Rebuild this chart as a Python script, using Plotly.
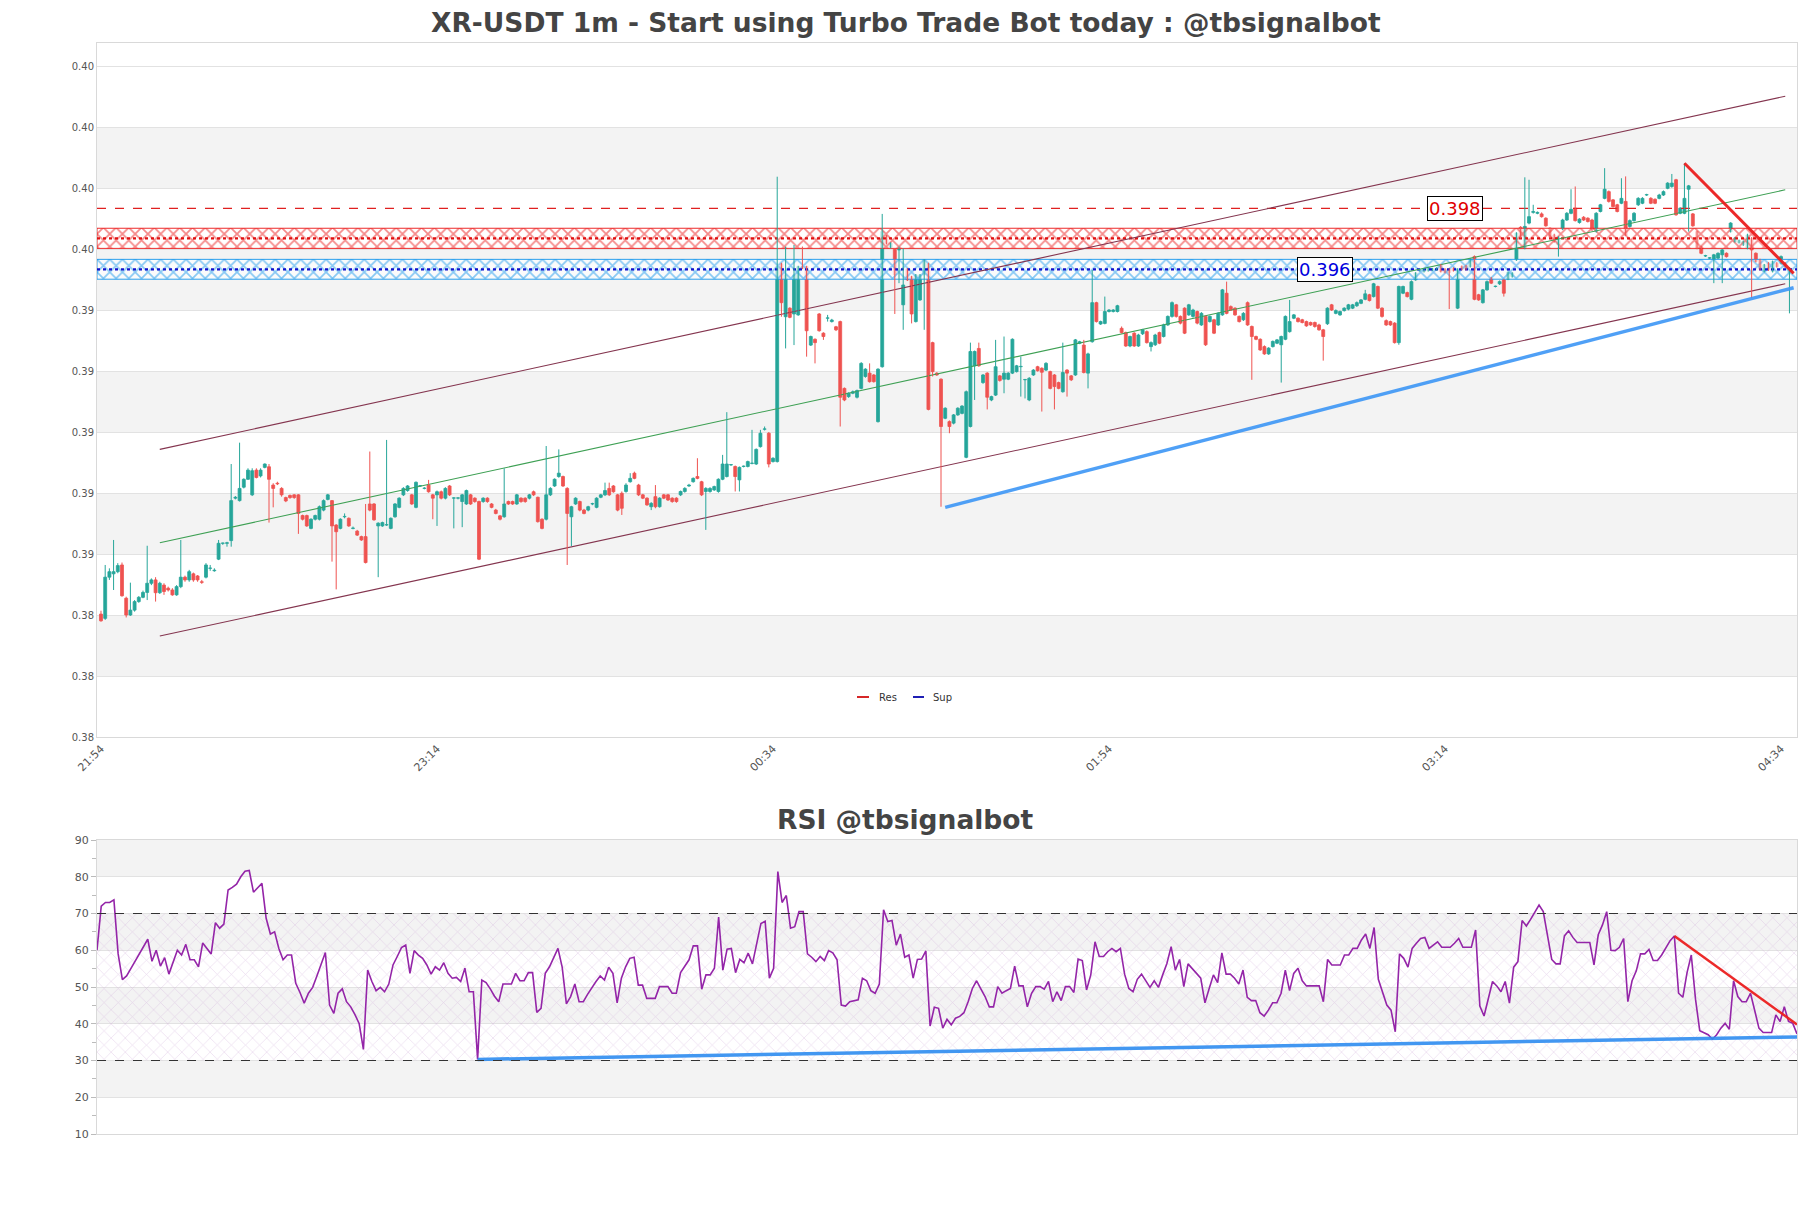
import plotly.graph_objects as go

W, H = 1811, 1208

# ---------------- data ----------------
time_labels = ["21:54", "23:14", "00:34", "01:54", "03:14", "04:34"]
time_label_idx = [0, 80, 160, 240, 320, 400]

opens = [
0.38463,0.38449,0.38584,0.38595,0.38602,0.38624,0.38515,0.38460,0.38476,0.38504,
0.38518,0.38534,0.38564,0.38575,0.38533,0.38558,0.38548,0.38542,0.38526,0.38553,
0.38584,0.38575,0.38595,0.38588,0.38569,0.38584,0.38613,0.38605,0.38643,0.38695,
0.38695,0.38704,0.38843,0.38835,0.38879,0.38905,0.38854,0.38935,0.38916,0.38944,
0.38946,0.38886,0.38892,0.38875,0.38845,0.38852,0.38854,0.38854,0.38786,0.38786,
0.38744,0.38774,0.38774,0.38804,0.38839,0.38835,0.38755,0.38744,0.38782,0.38777,
0.38744,0.38735,0.38717,0.38717,0.38824,0.38824,0.38752,0.38752,0.38755,0.38744,
0.38782,0.38813,0.38854,0.38868,0.38854,0.38813,0.38883,0.38875,0.38886,0.38854,
0.38854,0.38864,0.38843,0.38883,0.38843,0.38843,0.38832,0.38824,0.38854,0.38843,
0.38832,0.38832,0.38843,0.38824,0.38804,0.38785,0.38782,0.38832,0.38832,0.38824,
0.38843,0.38843,0.38843,0.38864,0.38846,0.38774,0.38774,0.38854,0.38883,0.38914,
0.38914,0.38875,0.38782,0.38824,0.38832,0.38804,0.38804,0.38824,0.38813,0.38846,
0.38854,0.38875,0.38883,0.38854,0.38859,0.38865,0.38897,0.38925,0.38886,0.38854,
0.38843,0.38815,0.38848,0.38815,0.38854,0.38854,0.38843,0.38843,0.38854,0.38865,
0.38883,0.38897,0.38914,0.38897,0.38865,0.38865,0.38870,0.38865,0.38905,0.38914,
0.38952,0.38947,0.38903,0.38947,0.38947,0.38957,0.38955,0.39012,0.39069,0.39056,
0.38963,0.38963,0.39611,0.39438,0.39466,0.39447,0.39444,0.39602,0.39602,0.39345,
0.39364,0.39447,0.39384,0.39433,0.39422,0.39405,0.39422,0.39203,0.39176,0.39187,
0.39174,0.39203,0.39242,0.39253,0.39247,0.39094,0.39274,0.39703,0.39666,0.39659,
0.39657,0.39477,0.39594,0.39569,0.39422,0.39493,0.39575,0.39611,0.39353,0.39253,
0.39233,0.39105,0.39094,0.39089,0.39116,0.39121,0.38977,0.39078,0.39277,0.39334,
0.39222,0.39253,0.39165,0.39181,0.39244,0.39233,0.39233,0.39253,0.39258,0.39274,
0.39231,0.39165,0.39247,0.39274,0.39269,0.39263,0.39258,0.39247,0.39222,0.39192,
0.39263,0.39244,0.39247,0.39351,0.39345,0.39253,0.39356,0.39484,0.39414,0.39416,
0.39455,0.39455,0.39455,0.39400,0.39386,0.39342,0.39384,0.39342,0.39382,0.39389,
0.39340,0.39346,0.39386,0.39373,0.39411,0.39439,0.39477,0.39439,0.39466,0.39444,
0.39439,0.39455,0.39411,0.39439,0.39422,0.39428,0.39411,0.39444,0.39515,0.39471,
0.39466,0.39439,0.39428,0.39484,0.39406,0.39373,0.39364,0.39340,0.39316,0.39340,
0.39351,0.39346,0.39364,0.39389,0.39433,0.39433,0.39428,0.39422,0.39419,0.39419,
0.39411,0.39395,0.39415,0.39477,0.39449,0.39444,0.39458,0.39463,0.39466,0.39474,
0.39482,0.39495,0.39510,0.39504,0.39537,0.39466,0.39425,0.39422,0.39417,0.39353,
0.39515,0.39517,0.39495,0.39559,0.39589,0.39586,0.39589,0.39592,0.39592,0.39608,
0.39594,0.39594,0.39597,0.39466,0.39602,0.39605,0.39602,0.39635,0.39510,0.39484,
0.39526,0.39564,0.39537,0.39546,0.39559,0.39561,0.39570,0.39624,0.39731,0.39663,
0.39745,0.39780,0.39777,0.39775,0.39761,0.39728,0.39706,0.39674,0.39725,0.39755,
0.39777,0.39794,0.39747,0.39764,0.39761,0.39755,0.39717,0.39783,0.39826,0.39848,
0.39821,0.39805,0.39810,0.39816,0.39734,0.39753,0.39805,0.39810,0.39837,0.39826,
0.39823,0.39826,0.39837,0.39859,0.39865,0.39887,0.39777,0.39777,0.39856,0.39775,
0.39717,0.39668,0.39637,0.39630,0.39624,0.39630,0.39641,0.39646,0.39717,0.39684,
0.39681,0.39674,0.39663,0.39695,0.39646,0.39624,0.39586,0.39613,0.39586,0.39613,
0.39613,0.39613,0.39581]

highs = [
0.38474,0.38624,0.38613,0.38706,0.38630,0.38632,0.38520,0.38566,0.38509,0.38522,
0.38540,0.38687,0.38580,0.38584,0.38569,0.38564,0.38553,0.38548,0.38558,0.38706,
0.38589,0.38608,0.38599,0.38591,0.38575,0.38630,0.38624,0.38613,0.38706,0.38697,
0.38700,0.38955,0.38850,0.39025,0.38908,0.38941,0.38941,0.38941,0.38941,0.38957,
0.38955,0.38892,0.38897,0.38879,0.38848,0.38855,0.38856,0.38856,0.38789,0.38789,
0.38777,0.38789,0.38819,0.38839,0.38857,0.38837,0.38758,0.38777,0.38793,0.38780,
0.38750,0.38739,0.38720,0.38824,0.38996,0.38827,0.38764,0.38766,0.39034,0.38780,
0.38827,0.38846,0.38879,0.38886,0.38857,0.38898,0.38886,0.38879,0.38903,0.38857,
0.38868,0.38868,0.38879,0.38886,0.38846,0.38846,0.38857,0.38871,0.38857,0.38846,
0.38835,0.38846,0.38846,0.38827,0.38808,0.38788,0.38941,0.38835,0.38835,0.38857,
0.38846,0.38846,0.38857,0.38868,0.38848,0.38777,0.39014,0.38879,0.38908,0.39003,
0.38917,0.38879,0.38818,0.38846,0.38835,0.38808,0.38818,0.38828,0.38846,0.38857,
0.38894,0.38894,0.38886,0.38857,0.38865,0.38892,0.38925,0.38930,0.38890,0.38857,
0.38846,0.38830,0.38886,0.38846,0.38857,0.38857,0.38846,0.38846,0.38868,0.38879,
0.38890,0.38911,0.38974,0.38900,0.38879,0.38879,0.38884,0.38908,0.38985,0.39125,
0.38955,0.38950,0.38947,0.38950,0.38966,0.39067,0.39006,0.39067,0.39078,0.39060,
0.38977,0.39897,0.39615,0.39668,0.39469,0.39673,0.39605,0.39668,0.39605,0.39376,
0.39367,0.39450,0.39387,0.39444,0.39431,0.39408,0.39425,0.39206,0.39190,0.39196,
0.39199,0.39289,0.39269,0.39285,0.39250,0.39269,0.39775,0.39706,0.39682,0.39662,
0.39668,0.39662,0.39597,0.39572,0.39578,0.39578,0.39627,0.39615,0.39356,0.39256,
0.39236,0.39141,0.39098,0.39119,0.39141,0.39148,0.39196,0.39353,0.39327,0.39353,
0.39250,0.39256,0.39179,0.39362,0.39247,0.39373,0.39256,0.39367,0.39280,0.39307,
0.39234,0.39240,0.39266,0.39277,0.39272,0.39289,0.39261,0.39250,0.39225,0.39353,
0.39266,0.39247,0.39365,0.39359,0.39362,0.39320,0.39591,0.39487,0.39425,0.39504,
0.39463,0.39463,0.39477,0.39406,0.39389,0.39376,0.39387,0.39382,0.39398,0.39393,
0.39357,0.39382,0.39389,0.39415,0.39442,0.39488,0.39480,0.39442,0.39469,0.39480,
0.39464,0.39458,0.39453,0.39442,0.39442,0.39431,0.39453,0.39529,0.39553,0.39475,
0.39469,0.39442,0.39453,0.39488,0.39409,0.39376,0.39367,0.39344,0.39338,0.39360,
0.39365,0.39376,0.39442,0.39493,0.39447,0.39436,0.39431,0.39425,0.39422,0.39422,
0.39415,0.39398,0.39469,0.39480,0.39462,0.39458,0.39469,0.39480,0.39480,0.39488,
0.39496,0.39526,0.39513,0.39549,0.39540,0.39469,0.39429,0.39425,0.39420,0.39540,
0.39540,0.39520,0.39557,0.39584,0.39595,0.39597,0.39600,0.39598,0.39600,0.39611,
0.39597,0.39597,0.39600,0.39597,0.39606,0.39608,0.39630,0.39639,0.39513,0.39529,
0.39557,0.39568,0.39540,0.39557,0.39562,0.39586,0.39584,0.39715,0.39735,0.39895,
0.39887,0.39805,0.39783,0.39780,0.39764,0.39731,0.39710,0.39702,0.39759,0.39781,
0.39856,0.39865,0.39761,0.39768,0.39764,0.39759,0.39781,0.39808,0.39925,0.39852,
0.39824,0.39808,0.39892,0.39898,0.39757,0.39781,0.39830,0.39830,0.39841,0.39830,
0.39826,0.39841,0.39852,0.39879,0.39906,0.39890,0.39797,0.39941,0.39870,0.39778,
0.39720,0.39671,0.39641,0.39633,0.39644,0.39649,0.39660,0.39649,0.39748,0.39699,
0.39691,0.39688,0.39710,0.39699,0.39649,0.39628,0.39611,0.39617,0.39622,0.39617,
0.39639,0.39617,0.39600]

lows = [
0.38438,0.38444,0.38575,0.38542,0.38597,0.38520,0.38452,0.38457,0.38471,0.38500,
0.38515,0.38509,0.38558,0.38504,0.38529,0.38526,0.38537,0.38523,0.38523,0.38548,
0.38569,0.38569,0.38569,0.38569,0.38562,0.38580,0.38605,0.38602,0.38640,0.38690,
0.38684,0.38684,0.38839,0.38832,0.38875,0.38903,0.38850,0.38908,0.38911,0.38941,
0.38763,0.38813,0.38886,0.38848,0.38830,0.38841,0.38841,0.38726,0.38770,0.38749,
0.38741,0.38770,0.38770,0.38800,0.38836,0.38635,0.38544,0.38741,0.38777,0.38749,
0.38741,0.38719,0.38703,0.38629,0.38800,0.38769,0.38584,0.38749,0.38752,0.38741,
0.38779,0.38810,0.38850,0.38864,0.38821,0.38810,0.38880,0.38872,0.38861,0.38774,
0.38752,0.38839,0.38839,0.38850,0.38744,0.38839,0.38748,0.38821,0.38821,0.38828,
0.38640,0.38828,0.38828,0.38810,0.38790,0.38770,0.38779,0.38821,0.38821,0.38821,
0.38828,0.38828,0.38839,0.38850,0.38763,0.38741,0.38770,0.38850,0.38880,0.38910,
0.38880,0.38624,0.38686,0.38821,0.38800,0.38790,0.38800,0.38820,0.38810,0.38843,
0.38850,0.38850,0.38861,0.38800,0.38788,0.38861,0.38894,0.38905,0.38850,0.38840,
0.38818,0.38804,0.38810,0.38812,0.38840,0.38834,0.38828,0.38828,0.38850,0.38861,
0.38880,0.38894,0.38905,0.38850,0.38739,0.38861,0.38867,0.38861,0.38902,0.38911,
0.38949,0.38865,0.38865,0.38944,0.38944,0.38954,0.38952,0.39009,0.39065,0.38944,
0.38960,0.38960,0.39438,0.39334,0.39433,0.39345,0.39441,0.39594,0.39307,0.39342,
0.39285,0.39389,0.39362,0.39422,0.39419,0.39391,0.39078,0.39161,0.39172,0.39184,
0.39170,0.39200,0.39238,0.39222,0.39222,0.39091,0.39271,0.39675,0.39662,0.39447,
0.39548,0.39395,0.39555,0.39416,0.39419,0.39490,0.39395,0.39131,0.39242,0.39244,
0.38815,0.39102,0.39056,0.39085,0.39113,0.39118,0.38974,0.39075,0.39165,0.39274,
0.39218,0.39134,0.39161,0.39178,0.39225,0.39187,0.39230,0.39250,0.39255,0.39176,
0.39170,0.39161,0.39244,0.39258,0.39127,0.39260,0.39200,0.39134,0.39200,0.39189,
0.39176,0.39227,0.39244,0.39348,0.39252,0.39203,0.39353,0.39419,0.39411,0.39413,
0.39452,0.39452,0.39452,0.39383,0.39339,0.39338,0.39339,0.39339,0.39378,0.39350,
0.39324,0.39342,0.39348,0.39370,0.39408,0.39435,0.39435,0.39413,0.39381,0.39441,
0.39435,0.39413,0.39408,0.39342,0.39419,0.39381,0.39408,0.39441,0.39446,0.39457,
0.39441,0.39419,0.39424,0.39408,0.39231,0.39361,0.39326,0.39313,0.39313,0.39337,
0.39348,0.39222,0.39361,0.39386,0.39430,0.39419,0.39416,0.39405,0.39408,0.39402,
0.39392,0.39294,0.39411,0.39457,0.39446,0.39441,0.39455,0.39459,0.39463,0.39470,
0.39479,0.39492,0.39488,0.39501,0.39463,0.39435,0.39408,0.39408,0.39350,0.39346,
0.39512,0.39501,0.39492,0.39556,0.39586,0.39583,0.39586,0.39588,0.39588,0.39583,
0.39580,0.39463,0.39586,0.39463,0.39590,0.39590,0.39599,0.39492,0.39490,0.39481,
0.39523,0.39545,0.39534,0.39542,0.39504,0.39558,0.39566,0.39621,0.39695,0.39659,
0.39741,0.39776,0.39774,0.39763,0.39733,0.39695,0.39681,0.39635,0.39722,0.39752,
0.39774,0.39750,0.39743,0.39752,0.39747,0.39719,0.39714,0.39780,0.39823,0.39812,
0.39796,0.39780,0.39807,0.39703,0.39730,0.39750,0.39801,0.39807,0.39834,0.39807,
0.39807,0.39823,0.39834,0.39856,0.39861,0.39769,0.39774,0.39774,0.39717,0.39733,
0.39659,0.39643,0.39634,0.39627,0.39548,0.39627,0.39548,0.39632,0.39714,0.39681,
0.39678,0.39670,0.39659,0.39499,0.39616,0.39590,0.39583,0.39588,0.39583,0.39599,
0.39610,0.39599,0.39449]

closes = [
0.38441,0.38584,0.38602,0.38602,0.38622,0.38523,0.38460,0.38476,0.38504,0.38518,
0.38534,0.38564,0.38575,0.38533,0.38564,0.38537,0.38542,0.38526,0.38553,0.38584,
0.38575,0.38602,0.38575,0.38575,0.38567,0.38624,0.38613,0.38607,0.38695,0.38695,
0.38697,0.38835,0.38846,0.38875,0.38905,0.38935,0.38933,0.38911,0.38935,0.38955,
0.38905,0.38875,0.38890,0.38854,0.38834,0.38845,0.38845,0.38793,0.38774,0.38752,
0.38774,0.38786,0.38815,0.38835,0.38854,0.38752,0.38733,0.38774,0.38782,0.38752,
0.38744,0.38722,0.38706,0.38632,0.38804,0.38772,0.38761,0.38763,0.38755,0.38777,
0.38824,0.38843,0.38875,0.38883,0.38824,0.38895,0.38883,0.38875,0.38864,0.38843,
0.38864,0.38843,0.38875,0.38854,0.38843,0.38843,0.38854,0.38868,0.38824,0.38832,
0.38643,0.38843,0.38832,0.38813,0.38793,0.38774,0.38824,0.38824,0.38824,0.38854,
0.38832,0.38832,0.38854,0.38854,0.38766,0.38744,0.38854,0.38875,0.38905,0.38925,
0.38883,0.38793,0.38815,0.38843,0.38804,0.38793,0.38815,0.38824,0.38843,0.38854,
0.38868,0.38854,0.38864,0.38804,0.38810,0.38886,0.38908,0.38908,0.38854,0.38843,
0.38821,0.38826,0.38815,0.38843,0.38843,0.38837,0.38832,0.38832,0.38865,0.38875,
0.38886,0.38908,0.38908,0.38854,0.38875,0.38875,0.38881,0.38905,0.38955,0.38955,
0.38952,0.38914,0.38944,0.38947,0.38963,0.38957,0.39003,0.39056,0.39069,0.38955,
0.38974,0.39600,0.39484,0.39575,0.39436,0.39575,0.39602,0.39597,0.39392,0.39373,
0.39353,0.39392,0.39373,0.39433,0.39427,0.39395,0.39174,0.39165,0.39187,0.39192,
0.39196,0.39285,0.39266,0.39225,0.39225,0.39266,0.39717,0.39679,0.39679,0.39575,
0.39657,0.39542,0.39559,0.39447,0.39575,0.39575,0.39624,0.39134,0.39258,0.39247,
0.39078,0.39138,0.39078,0.39116,0.39138,0.39145,0.39192,0.39324,0.39324,0.39277,
0.39247,0.39174,0.39176,0.39274,0.39229,0.39253,0.39253,0.39364,0.39277,0.39274,
0.39231,0.39236,0.39263,0.39261,0.39256,0.39285,0.39203,0.39209,0.39203,0.39255,
0.39253,0.39231,0.39362,0.39356,0.39255,0.39316,0.39484,0.39422,0.39422,0.39455,
0.39460,0.39460,0.39474,0.39386,0.39342,0.39373,0.39342,0.39378,0.39395,0.39353,
0.39353,0.39378,0.39351,0.39411,0.39439,0.39484,0.39439,0.39417,0.39384,0.39477,
0.39460,0.39417,0.39449,0.39346,0.39439,0.39384,0.39449,0.39526,0.39449,0.39460,
0.39444,0.39422,0.39449,0.39411,0.39373,0.39364,0.39329,0.39316,0.39335,0.39357,
0.39362,0.39373,0.39439,0.39422,0.39444,0.39422,0.39419,0.39408,0.39411,0.39406,
0.39395,0.39373,0.39466,0.39460,0.39458,0.39455,0.39466,0.39477,0.39477,0.39484,
0.39493,0.39513,0.39491,0.39546,0.39466,0.39439,0.39411,0.39411,0.39353,0.39537,
0.39537,0.39504,0.39553,0.39581,0.39592,0.39594,0.39597,0.39595,0.39597,0.39586,
0.39583,0.39583,0.39589,0.39594,0.39594,0.39594,0.39627,0.39495,0.39493,0.39526,
0.39553,0.39548,0.39537,0.39553,0.39515,0.39583,0.39581,0.39712,0.39699,0.39734,
0.39766,0.39783,0.39780,0.39766,0.39736,0.39699,0.39684,0.39699,0.39755,0.39777,
0.39790,0.39753,0.39758,0.39755,0.39750,0.39723,0.39777,0.39805,0.39856,0.39816,
0.39799,0.39783,0.39826,0.39706,0.39753,0.39777,0.39826,0.39826,0.39837,0.39810,
0.39810,0.39837,0.39848,0.39876,0.39876,0.39772,0.39794,0.39826,0.39867,0.39736,
0.39663,0.39646,0.39637,0.39630,0.39641,0.39646,0.39657,0.39635,0.39745,0.39695,
0.39688,0.39684,0.39706,0.39657,0.39619,0.39594,0.39608,0.39592,0.39619,0.39602,
0.39635,0.39602,0.39597]

rsi = [
60,72,73,73,73.7,59,52,53,55,57,59,61,63,57,60,55.7,58,53.5,57,60,
58.7,61.6,57.4,57.4,55.5,62,60.5,59,67.5,66,67.1,76.4,77.1,78,80,81.5,81.7,75.8,77,78.2,
68.7,64.4,65,60.5,57.4,58.7,58.7,51,48.5,45.6,48.3,49.9,53,56.5,59.4,45.1,42.8,48.3,49.5,46,
44.6,42.5,40,33,54.6,51.5,49,49.9,48.7,50.8,56,58.3,60.7,61.4,53.7,59.9,58.7,57.8,56,53.5,
55.5,54.6,56.6,53.7,52.4,52.6,51.5,55.1,48.7,48.7,30.3,51.9,51.2,49.5,47.5,46,50.8,50.8,50.8,53.7,
51.7,51.7,53.9,53.9,43.1,44.2,53.7,55.5,58,60.5,55.4,45.4,47.4,50.8,46,46,48,49.8,51.5,53,
51.9,55.4,53.7,45.7,52.4,55.5,57.8,58.1,50.5,50.5,46.9,46.9,46.9,50.1,50.1,50.1,48.3,48.3,53.9,55.5,
57.4,61.2,61.2,49.4,53.3,53.3,55.1,69,54.6,60.3,60.5,53.9,57.5,56.6,59.2,56.3,62,67.3,67.9,52.4,
55.1,81.4,73,74.9,66,66.4,70.5,70.5,59,58.1,56.9,58.3,57.2,59.9,59.3,57.4,45.1,44.8,46,46.2,
46.5,52.4,51.7,49,48.3,50.8,71,67.8,68.1,61.4,64.4,58.1,58.7,52.4,57.5,57.6,59.8,39.4,44.5,44.2,
38.8,41.2,39.7,41.5,42,43,46,49.6,51.7,49.5,47.4,44.6,44.6,50.1,48.3,49,49.6,55.7,50.3,50.3,
44.6,48.3,50.1,50.1,49.4,51.5,46,48.7,46.3,50.1,50.1,48.5,57.6,57.2,49.2,53.3,62.3,58.3,58.3,59.6,
60.5,59.6,60.5,53.5,49.6,48.7,52.1,53.5,51.5,49.9,51.7,49.9,53.3,56.4,61,54.6,57.5,50.1,56.3,55.1,
53.7,52.4,45.7,49.6,53.3,51.2,59.3,53.5,53.5,52.4,50.8,54.6,47.2,46.3,46.3,43,42.1,43.7,45.7,45.7,
48.3,54.6,49,53.7,55.1,51.7,50.3,50.3,50.3,50.3,46,57.5,56,56,56,58.7,58.7,60.5,60.5,62.8,
64.4,60.5,66.2,52.1,48.3,45.1,43.7,37.8,59,57.8,55.4,60.5,61.9,63.2,63.5,60.5,61.4,62.3,60.8,60.8,
60.8,61.9,63.2,60.8,60.8,60.8,65.5,44.8,42.1,46.9,51.5,50.3,48.7,51.5,45.6,55.4,56.9,68.1,66.6,68.4,
70.5,72.3,70.5,63.5,57.5,56.3,56.3,63.9,65.3,63.5,62.1,62.1,62.1,62.1,56,64.2,66.9,70.5,60,59.9,
60.8,63.2,46,51.7,54.4,59,59,60.2,57.2,57.2,58.7,60.5,62.6,63.9,48.3,47.2,53.9,58.7,46.7,38.1,
37.6,37,35.8,37,38.8,40.1,38.5,51.7,47.4,46,46,48.3,43.6,38.8,37.6,37.6,37.6,42.4,40.6,44.6,
40.6,40.1,37.2]

# levels / trend lines
res_level = 0.39793
res_zone = (0.39662, 0.39728)
res_mid = 0.39695
sup_zone = (0.39561, 0.39626)
sup_mid = 0.39593
res_label, sup_label = "0.398", "0.396"
res_label_x, sup_label_x = 322.4, 291.4
chan_x = [14, 401]
chan_upper = [0.39003, 0.40161]
chan_lower = [0.38391, 0.39546]
chan_mid = [0.38697, 0.39854]
sup_tl_x, sup_tl_y = [201, 403], [0.38813, 0.39533]
res_tl_x, res_tl_y = [377, 403], [0.39941, 0.39580]
rsi_sup_x, rsi_sup_y = [90, 402], [30.3, 36.4]
rsi_res_x, rsi_res_y = [373, 402], [63.9, 39.8]

ytick_vals = [0.3806 + 0.002 * k for k in range(12)]
ytick_text = ["0.38", "0.38", "0.38", "0.39", "0.39", "0.39", "0.39", "0.39", "0.40", "0.40", "0.40", "0.40"]

n = min(len(opens), len(highs), len(lows), len(closes))

# ---------------- geometry ----------------
def fx(px):
    return px / W

def fy(py):
    return 1 - py / H

FONT = "DejaVu Sans, sans-serif"
UP, DOWN = "#26a69a", "#ef5350"
X_LO, X_HI = -0.95, 403.8
Y_LO = 0.3806
Y_HI = 0.3806 + (737 - 43) / 61 * 0.002
DOJI = 0.000012

fig = go.Figure()

# hatched zones
for (lo, hi), fg, edge in [(res_zone, "rgba(235,20,20,1)", "rgba(235,20,20,0.9)"),
                           (sup_zone, "rgba(20,150,235,1)", "rgba(20,150,235,0.9)")]:
    fig.add_trace(go.Scatter(
        x=[X_LO, X_HI, X_HI, X_LO, X_LO], y=[lo, lo, hi, hi, lo],
        mode="lines", fill="toself", line=dict(color=edge, width=1),
        fillpattern=dict(shape="x", fgcolor=fg, bgcolor="rgba(255,255,255,0.7)", size=9, solidity=0.35),
        xaxis="x", yaxis="y", showlegend=False, hoverinfo="skip"))

# horizontal lines
fig.add_trace(go.Scatter(x=[X_LO, X_HI], y=[res_level, res_level], mode="lines",
                         line=dict(color="#e02020", width=1.2, dash="dash"),
                         showlegend=False, hoverinfo="skip"))
fig.add_trace(go.Scatter(x=[X_LO, X_HI], y=[res_mid, res_mid], mode="lines",
                         line=dict(color="#e01010", width=2.2, dash="dot"),
                         showlegend=False, hoverinfo="skip"))
fig.add_trace(go.Scatter(x=[X_LO, X_HI], y=[sup_mid, sup_mid], mode="lines",
                         line=dict(color="#1010cc", width=2.2, dash="dot"),
                         showlegend=False, hoverinfo="skip"))

# channel
for ys, col in [(chan_upper, "#84354f"), (chan_lower, "#84354f"), (chan_mid, "#3ea054")]:
    fig.add_trace(go.Scatter(x=chan_x, y=ys, mode="lines", line=dict(color=col, width=1.1),
                             showlegend=False, hoverinfo="skip"))

# candles: wicks + bodies, split by direction
for is_up, col in [(True, UP), (False, DOWN)]:
    sel = [i for i in range(n) if (closes[i] >= opens[i]) == is_up]
    wx, wy = [], []
    for i in sel:
        wx += [i, i, None]
        wy += [lows[i], highs[i], None]
    fig.add_trace(go.Scatter(x=wx, y=wy, mode="lines", line=dict(color=col, width=1),
                             showlegend=False, hoverinfo="skip", xaxis="x", yaxis="y"))
    body = [closes[i] - opens[i] if abs(closes[i] - opens[i]) > DOJI else (DOJI if is_up else -DOJI)
            for i in sel]
    fig.add_trace(go.Bar(x=sel, base=[opens[i] for i in sel], y=body, width=0.7,
                         marker=dict(color=col, line=dict(color=col, width=0.8)),
                         showlegend=False, hoverinfo="skip", xaxis="x", yaxis="y"))

# trend lines
fig.add_trace(go.Scatter(x=sup_tl_x, y=sup_tl_y, mode="lines",
                         line=dict(color="rgba(60,150,245,0.9)", width=3.5),
                         showlegend=False, hoverinfo="skip"))
fig.add_trace(go.Scatter(x=res_tl_x, y=res_tl_y, mode="lines",
                         line=dict(color="rgba(235,30,30,0.95)", width=3),
                         showlegend=False, hoverinfo="skip"))

# ---------------- RSI ----------------
fig.add_trace(go.Scatter(
    x=[0, 402, 402, 0, 0], y=[30, 30, 70, 70, 30], mode="lines", fill="toself",
    line=dict(width=0, color="rgba(0,0,0,0)"),
    fillpattern=dict(shape="x", fgcolor="rgba(205,165,215,0.9)", bgcolor="rgba(255,255,255,0)", size=10, solidity=0.12),
    xaxis="x2", yaxis="y2", showlegend=False, hoverinfo="skip"))
fig.add_trace(go.Scatter(x=list(range(len(rsi))), y=rsi, mode="lines",
                         line=dict(color="#9425a8", width=1.6),
                         xaxis="x2", yaxis="y2", showlegend=False, hoverinfo="skip"))
fig.add_trace(go.Scatter(x=rsi_sup_x, y=rsi_sup_y, mode="lines",
                         line=dict(color="rgba(45,140,240,0.9)", width=3.5),
                         xaxis="x2", yaxis="y2", showlegend=False, hoverinfo="skip"))
fig.add_trace(go.Scatter(x=rsi_res_x, y=rsi_res_y, mode="lines",
                         line=dict(color="rgba(235,30,30,0.95)", width=2.5),
                         xaxis="x2", yaxis="y2", showlegend=False, hoverinfo="skip"))

shapes = []
# alternating bands main
for k in range(1, 11, 2):
    shapes.append(dict(type="rect", xref="x domain", yref="y", x0=0, x1=1,
                       y0=ytick_vals[k], y1=ytick_vals[k + 1],
                       fillcolor="#f3f3f3", line=dict(width=0), layer="below"))
# alternating bands RSI
for lo in [20, 40, 60, 80]:
    shapes.append(dict(type="rect", xref="x2 domain", yref="y2", x0=0, x1=1, y0=lo, y1=lo + 10,
                       fillcolor="#f3f3f3", line=dict(width=0), layer="below"))
for lvl in [30, 70]:
    shapes.append(dict(type="line", xref="x2 domain", yref="y2", x0=0, x1=1, y0=lvl, y1=lvl,
                       line=dict(color="#333333", width=1.2, dash="dash")))
# manual legend
shapes.append(dict(type="line", xref="paper", yref="paper", x0=fx(857), x1=fx(869), y0=fy(697), y1=fy(697),
                   line=dict(color="#d62728", width=2)))
shapes.append(dict(type="line", xref="paper", yref="paper", x0=fx(913), x1=fx(924), y0=fy(697), y1=fy(697),
                   line=dict(color="#1f1fb4", width=2)))

annotations = [
    dict(text="<b>XR-USDT 1m - Start using Turbo Trade Bot today : @tbsignalbot</b>",
         xref="paper", yref="paper", x=0.5, y=fy(22), xanchor="center", yanchor="middle",
         showarrow=False, font=dict(family=FONT, size=26.5, color="#444444")),
    dict(text="<b>RSI @tbsignalbot</b>",
         xref="paper", yref="paper", x=0.5, y=fy(819), xanchor="center", yanchor="middle",
         showarrow=False, font=dict(family=FONT, size=26.5, color="#444444")),
    dict(text=res_label, x=res_label_x, y=res_level, xref="x", yref="y", showarrow=False,
         font=dict(family=FONT, size=18, color="#e00000"),
         bgcolor="white", bordercolor="black", borderwidth=1, borderpad=1),
    dict(text=sup_label, x=sup_label_x, y=sup_mid, xref="x", yref="y", showarrow=False,
         font=dict(family=FONT, size=18, color="#0000dd"),
         bgcolor="white", bordercolor="black", borderwidth=1, borderpad=1),
    dict(text="Res", xref="paper", yref="paper", x=fx(877), y=fy(697), xanchor="left", yanchor="middle",
         showarrow=False, font=dict(family=FONT, size=10, color="#333")),
    dict(text="Sup", xref="paper", yref="paper", x=fx(931), y=fy(697), xanchor="left", yanchor="middle",
         showarrow=False, font=dict(family=FONT, size=10, color="#333")),
]

axis_line = dict(showline=True, linecolor="#d9d9d9", linewidth=1, mirror=True, zeroline=False, automargin=False)

fig.update_layout(
    width=W, height=H, margin=dict(l=0, r=0, t=0, b=0),
    paper_bgcolor="white", plot_bgcolor="white",
    font=dict(family=FONT, color="#555"),
    showlegend=False, shapes=shapes, annotations=annotations, barmode="overlay",
    xaxis=dict(domain=[fx(97), fx(1797)], range=[X_LO, X_HI], anchor="y",
               tickvals=time_label_idx, ticktext=time_labels, tickangle=-45,
               tickfont=dict(size=11, color="#555"), showgrid=False, ticks="", **axis_line),
    yaxis=dict(domain=[fy(737), fy(43)], range=[Y_LO, Y_HI], anchor="x",
               tickvals=ytick_vals, ticktext=ytick_text, tickfont=dict(size=10, color="#555"),
               showgrid=True, gridcolor="#e2e2e2", gridwidth=1, ticks="", **axis_line),
    xaxis2=dict(domain=[fx(97), fx(1797)], range=[0, 402], anchor="y2",
                showticklabels=False, showgrid=False, ticks="", **axis_line),
    yaxis2=dict(domain=[fy(1134), fy(840)], range=[10, 90], anchor="x2",
                tickvals=list(range(10, 91, 10)), tickfont=dict(size=11, color="#555"),
                showgrid=True, gridcolor="#e2e2e2", ticks="outside", ticklen=5, tickcolor="#bbb",
                minor=dict(dtick=5, tick0=5, ticks="outside", ticklen=4, tickcolor="#bbb", showgrid=False),
                **axis_line),
)

fig.write_html("out.html")
